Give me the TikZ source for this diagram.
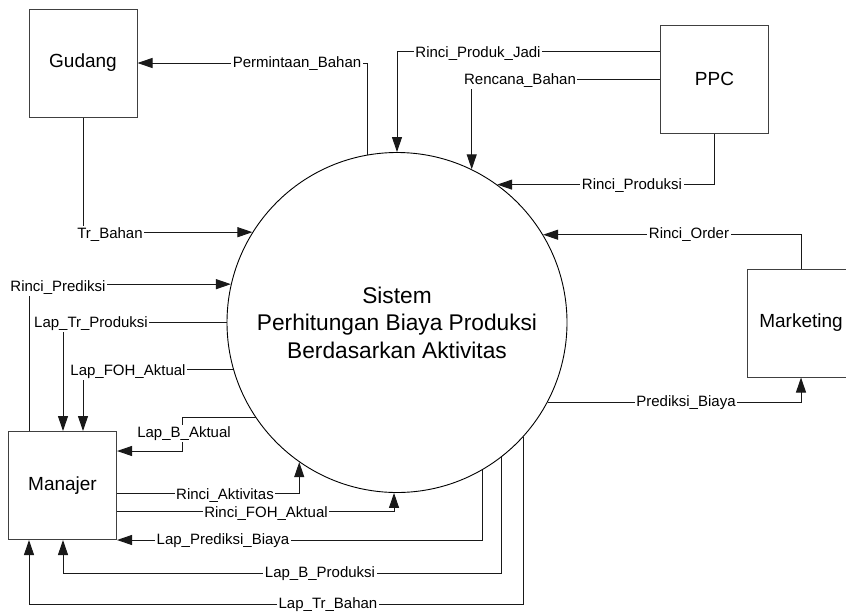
\documentclass[tikz,border=0pt]{standalone}
\usepackage{fontspec}
\setmainfont{Liberation Sans}
\usetikzlibrary{arrows.meta}
\begin{document}
\begin{tikzpicture}[x=1pt,y=-1pt,
  ent/.style={draw=black!75, line width=1pt, minimum width=108pt, minimum height=108pt, inner sep=0pt, font=\fontsize{19}{22}\selectfont},
  proc/.style={circle, draw=black, line width=0.9pt, minimum size=340pt, inner sep=0pt, align=center, font=\fontsize{22.7}{27.5}\selectfont},
  flow/.style={draw=black!90, line width=1pt, -{Triangle[length=15pt,width=10pt]}},
  lbl/.style={fill=white, inner sep=1.5pt, anchor=base, yshift=-5.4pt, font=\fontsize{15}{18}\selectfont}
]
\useasboundingbox (0,0) rectangle (846,611);
\clip (0,0) rectangle (846,611);

% entities and process
\node[ent] (gud) at (83,63) {Gudang};
\node[ent] (ppc) at (714.5,79) {PPC};
\node[ent] (mkt) at (801,323) {Marketing};
\node[ent] (man) at (62.5,485.5) {Manajer};
\node[proc] (sys) at (397,322.5) {Sistem\\Perhitungan Biaya Produksi\\Berdasarkan Aktivitas};

% flows
\draw[flow] (sys.100.5) |- (gud.east);
\draw[flow] (ppc.north west) ++(0,27) -| (sys.north);
\draw[flow] (ppc.west) -| (sys.64.9);
\draw[flow] (ppc.south) |- (sys.54.56);
\draw[flow] (mkt.north) |- (sys.31.77);
\draw[flow] (sys.332.5) -| (mkt.south);
\draw[flow] (gud.south) |- (sys.148.23);
\draw[flow] ([xshift=21pt]man.north west) |- (sys.167.6);
\draw[flow] (sys.west) -| ([xshift=55pt]man.north west);
\draw[flow] (sys.196.2) -| ([xshift=75pt]man.north west);
\draw[flow] (sys.214.2) -- ++(-73,0) |- ([yshift=-20pt]man.north east);
\draw[flow] ([yshift=-62pt]man.north east) -| (sys.235.6);
\draw[flow] ([yshift=-80pt]man.north east) -| (sys.269.7);
\draw[flow] (sys.300) |- (man.south east);
\draw[flow] (sys.308.1) |- ([xshift=55pt,yshift=-33pt]man.south west) -- ([xshift=55pt]man.south west);
\draw[flow] (sys.318.3) |- ([xshift=21pt,yshift=-64pt]man.south west) -- ([xshift=21pt]man.south west);

% labels
\node[lbl] (l1) at (297,62) {Permintaan\_Bahan};
\node[lbl] (l2) at (478,52) {Rinci\_Produk\_Jadi};
\node[lbl] (l3) at (520,79) {Rencana\_Bahan};
\node[lbl] (l4) at (632,184) {Rinci\_Produksi};
\node[lbl] (l5) at (689,233) {Rinci\_Order};
\node[lbl] (l6) at (686,401) {Prediksi\_Biaya};
\node[lbl] (l7) at (110,233) {Tr\_Bahan};
\node[lbl] (l8) at (58,286) {Rinci\_Prediksi};
\node[lbl] (l9) at (91,322) {Lap\_Tr\_Produksi};
\node[lbl] (l10) at (128,370) {Lap\_FOH\_Aktual};
\node[lbl] (l11) at (184,432) {Lap\_B\_Aktual};
\node[lbl] (l12) at (225,494) {Rinci\_Aktivitas};
\node[lbl] (l13) at (266,512) {Rinci\_FOH\_Aktual};
\node[lbl] (l14) at (223,539) {Lap\_Prediksi\_Biaya};
\node[lbl] (l15) at (320,572) {Lap\_B\_Produksi};
\node[lbl] (l16) at (328,603) {Lap\_Tr\_Bahan};
\end{tikzpicture}
\end{document}
